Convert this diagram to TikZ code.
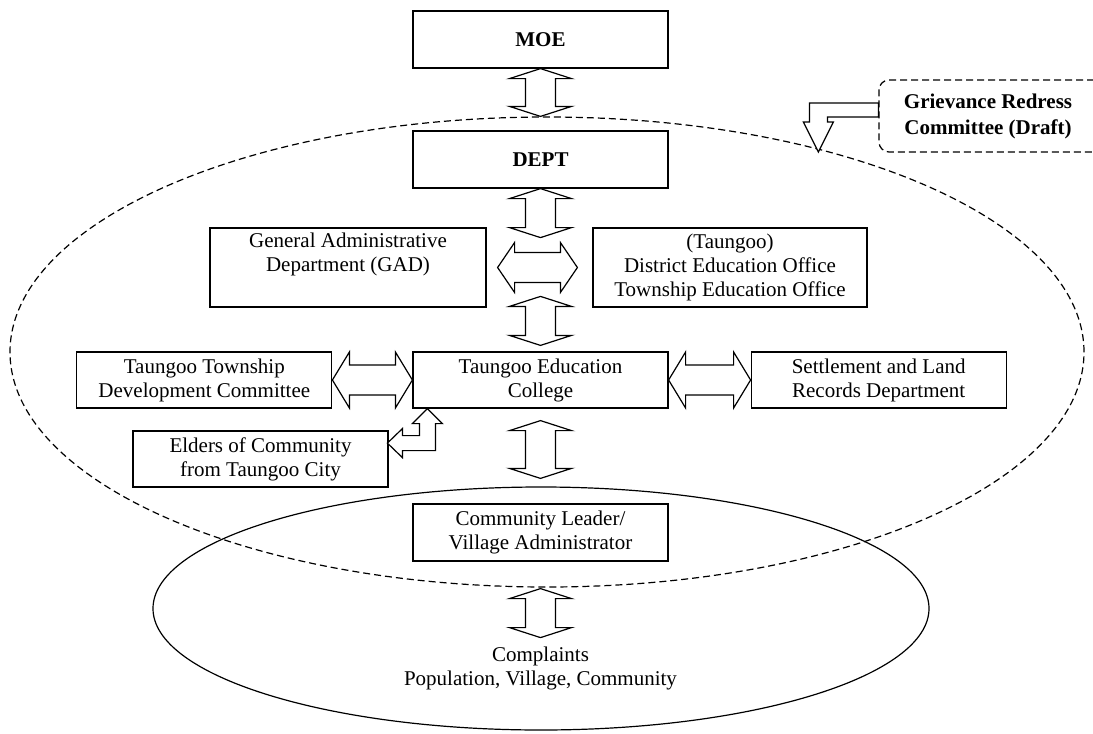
\documentclass[tikz,border=0pt]{standalone}
\usepackage{fontspec}
\setmainfont{Liberation Serif}
\usetikzlibrary{calc,positioning}

\newcommand{\boxfont}{\fontsize{21}{24}\selectfont}

\tikzset{
	box/.style={draw, line width=1.2pt, fill=white, minimum width=255pt, minimum height=57pt,
		inner sep=0pt, align=center, font=\boxfont},
	blockarrow/.style={draw, line width=1.2pt, fill=white, line join=miter},
	dashline/.style={line width=1.2pt, dash pattern=on 7pt off 4pt},
}

% two-headed block arrows between two points
\newcommand{\vblockarrow}[2]{%
	\draw[blockarrow] let \p1=(#1), \p2=(#2) in
		(\x1,\y1) -- (\x1+31pt,\y1-10pt) -- (\x1+15pt,\y1-10pt) -- (\x1+15pt,\y2+10pt)
		-- (\x1+31pt,\y2+10pt) -- (\x1,\y2) -- (\x1-31pt,\y2+10pt) -- (\x1-15pt,\y2+10pt)
		-- (\x1-15pt,\y1-10pt) -- (\x1-31pt,\y1-10pt) -- cycle;}
\newcommand{\hblockarrow}[3][28pt]{%
	\draw[blockarrow] let \p1=(#2), \p2=(#3) in
		(\x1,\y1) -- (\x1+17pt,\y1+#1) -- (\x1+17pt,\y1+15pt) -- (\x2-17pt,\y1+15pt)
		-- (\x2-17pt,\y1+#1) -- (\x2,\y1) -- (\x2-17pt,\y1-#1) -- (\x2-17pt,\y1-15pt)
		-- (\x1+17pt,\y1-15pt) -- (\x1+17pt,\y1-#1) -- cycle;}

\begin{document}
\begin{tikzpicture}[x=1pt,y=-1pt]
	\clip (0,0) rectangle (1093,734);

	% project area and community area
	\draw[dashline] (547,352) ellipse [x radius=537pt, y radius=235pt];
	\draw[line width=1.2pt] (541,608.5) ellipse [x radius=388pt, y radius=121.5pt];

	\node[box, font=\boxfont\bfseries] (moe) at (540.5,39.5) {MOE};
	\node[box, font=\boxfont\bfseries] (dept) at (540.5,159.5) {DEPT};

	\node[box, minimum width=276pt, minimum height=79pt] (gad) at (348,267.5)
		{General Administrative\\Department (GAD)\\\strut};
	\node[box, minimum width=274pt, minimum height=79pt] (deo) at (730,267.5)
		{(Taungoo)\\District Education Office\\Township Education Office};

	\node[box, minimum height=56pt] (college) at (540.5,380) {Taungoo Education\\College};
	\node[box, minimum height=56pt, left=80pt of college] (ttdc) {Taungoo Township\\Development Committee};
	\node[box, minimum height=56pt, right=82pt of college] (land) {Settlement and Land\\Records Department};
	\node[box, minimum height=56pt] (elders) at (260.5,459) {Elders of Community\\from Taungoo City};

	\node[box] (leader) at (540.5,532.5) {Community Leader/\\Village Administrator};
	\node[font=\boxfont, align=center] (complaints) at (540.5,668)
		{Complaints\\Population, Village, Community};

	% committee box runs off the right side
	\node[dashline, draw, rounded corners=10pt, minimum width=236pt, minimum height=72pt] (grc) at (997,116) {};
	\node[align=center, font=\fontsize{21}{26}\selectfont\bfseries] (grctext) at (988,116)
		{Grievance Redress\\Committee (Draft)};

	% links
	\vblockarrow{moe.south}{$(dept.north)+(0,-14)$}
	\vblockarrow{dept.south}{$(dept.south)+(0,49)$}
	\hblockarrow[25pt]{$(gad.east)+(11,0)$}{$(deo.west)+(-15,0)$}
	\vblockarrow{$(college.north)+(0,-55)$}{$(college.north)+(0,-6)$}
	\hblockarrow{ttdc.east}{college.west}
	\hblockarrow{college.east}{land.west}
	\vblockarrow{$(college.south)+(0,12)$}{$(leader.north)+(0,-25)$}
	\vblockarrow{$(leader.south)+(0,27)$}{$(leader.south)+(0,76)$}

	% bent arrows
	\draw[blockarrow] ($(college.south west)+(15,0)$) -- ++(15,15) -- ++(-7,0) -- ++(0,27)
		-- ++(-33,0) -- ++(0,7) -- ++(-15,-14.5) -- ++(15,-14.5) -- ++(0,7) -- ++(17,0)
		-- ++(0,-12) -- ++(-7,0) -- cycle;
	\draw[blockarrow] ($(grc.west)+(0,-13)$) -- ++(-69,0) -- ++(0,19) -- ++(-6,0) -- ++(15,30)
		-- ++(15,-30) -- ++(-6,0) -- ++(0,-5) -- ++(51,0) -- cycle;
\end{tikzpicture}
\end{document}
